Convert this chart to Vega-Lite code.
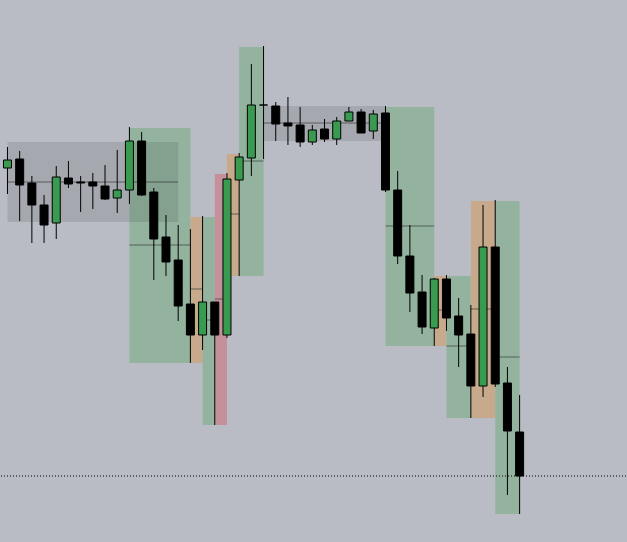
{
  "$schema": "https://vega.github.io/schema/vega-lite/v6.json",
  "width": 627,
  "height": 542,
  "autosize": {"type": "fit", "contains": "padding"},
  "padding": 0,
  "background": "#B9BCC4",
  "config": {
    "view": {"stroke": null},
    "axis": {"disable": true},
    "legend": {"disable": true}
  },
  "datasets": {
    "candles": [
      {"i": 1, "open": 137.4, "high": 139.5, "low": 134.8, "close": 138.2},
      {"i": 2, "open": 138.3, "high": 139.1, "low": 132.1, "close": 135.7},
      {"i": 3, "open": 135.9, "high": 136.6, "low": 129.9, "close": 133.7},
      {"i": 4, "open": 133.7, "high": 134.7, "low": 129.9, "close": 131.7},
      {"i": 5, "open": 131.9, "high": 137.6, "low": 130.3, "close": 136.5},
      {"i": 6, "open": 136.4, "high": 138.1, "low": 135.4, "close": 135.8},
      {"i": 7, "open": 136.0, "high": 136.6, "low": 133.0, "close": 135.9},
      {"i": 8, "open": 136.0, "high": 136.9, "low": 133.3, "close": 135.6},
      {"i": 9, "open": 135.6, "high": 137.7, "low": 134.2, "close": 134.3},
      {"i": 10, "open": 134.4, "high": 139.2, "low": 132.9, "close": 135.2},
      {"i": 11, "open": 135.2, "high": 141.5, "low": 133.8, "close": 140.1},
      {"i": 12, "open": 140.1, "high": 141.0, "low": 134.6, "close": 134.7},
      {"i": 13, "open": 135.0, "high": 135.4, "low": 126.2, "close": 130.3},
      {"i": 14, "open": 130.5, "high": 132.7, "low": 126.6, "close": 128.0},
      {"i": 15, "open": 128.2, "high": 131.7, "low": 122.1, "close": 123.6},
      {"i": 16, "open": 123.8, "high": 131.3, "low": 117.9, "close": 120.7},
      {"i": 17, "open": 120.7, "high": 132.6, "low": 119.2, "close": 124.0},
      {"i": 18, "open": 124.0, "high": 124.0, "low": 111.7, "close": 120.7},
      {"i": 19, "open": 120.7, "high": 136.9, "low": 120.4, "close": 136.3},
      {"i": 20, "open": 136.2, "high": 138.9, "low": 126.6, "close": 138.5},
      {"i": 21, "open": 138.4, "high": 147.8, "low": 136.6, "close": 143.7},
      {"i": 22, "open": 143.7, "high": 149.6, "low": 138.3, "close": 143.7},
      {"i": 23, "open": 143.6, "high": 144.0, "low": 140.1, "close": 141.8},
      {"i": 24, "open": 141.9, "high": 144.5, "low": 139.7, "close": 141.6},
      {"i": 25, "open": 141.7, "high": 143.5, "low": 139.5, "close": 140.0},
      {"i": 26, "open": 140.0, "high": 141.7, "low": 139.7, "close": 141.2},
      {"i": 27, "open": 141.3, "high": 142.3, "low": 140.0, "close": 140.3},
      {"i": 28, "open": 140.3, "high": 142.5, "low": 139.7, "close": 142.1},
      {"i": 29, "open": 142.1, "high": 143.5, "low": 142.1, "close": 143.0},
      {"i": 30, "open": 143.0, "high": 143.3, "low": 140.9, "close": 140.9},
      {"i": 31, "open": 141.1, "high": 143.2, "low": 140.3, "close": 142.8},
      {"i": 32, "open": 142.9, "high": 143.6, "low": 135.0, "close": 135.2},
      {"i": 33, "open": 135.2, "high": 137.1, "low": 127.8, "close": 128.6},
      {"i": 34, "open": 128.6, "high": 131.7, "low": 123.0, "close": 124.9},
      {"i": 35, "open": 125.0, "high": 126.7, "low": 120.8, "close": 121.5},
      {"i": 36, "open": 121.4, "high": 126.4, "low": 119.6, "close": 126.3},
      {"i": 37, "open": 126.3, "high": 126.7, "low": 121.1, "close": 122.4},
      {"i": 38, "open": 122.6, "high": 124.4, "low": 117.5, "close": 120.7},
      {"i": 39, "open": 120.8, "high": 123.7, "low": 112.4, "close": 115.6},
      {"i": 40, "open": 115.6, "high": 133.7, "low": 114.5, "close": 129.5},
      {"i": 41, "open": 129.5, "high": 134.2, "low": 115.5, "close": 115.8},
      {"i": 42, "open": 115.9, "high": 117.5, "low": 104.7, "close": 111.1},
      {"i": 43, "open": 111.0, "high": 114.7, "low": 102.8, "close": 106.6}
    ],
    "zones": [
      {"start": 1, "end": 15, "top": 140.0, "bottom": 132.0, "mid": 136.0, "kind": "range"},
      {"start": 11, "end": 16, "top": 141.4, "bottom": 117.9, "mid": 129.7, "kind": "impulse"},
      {"start": 16, "end": 17, "top": 132.5, "bottom": 117.9, "mid": 125.3, "kind": "base"},
      {"start": 17, "end": 18, "top": 132.5, "bottom": 111.7, "mid": 122.2, "kind": "impulse"},
      {"start": 18, "end": 19, "top": 136.8, "bottom": 111.7, "mid": 124.3, "kind": "imbalance"},
      {"start": 19, "end": 20, "top": 138.8, "bottom": 126.6, "mid": 132.8, "kind": "base"},
      {"start": 20, "end": 22, "top": 149.5, "bottom": 126.6, "mid": 138.1, "kind": "impulse"},
      {"start": 22, "end": 32, "top": 143.6, "bottom": 140.1, "mid": 141.9, "kind": "range"},
      {"start": 32, "end": 36, "top": 143.5, "bottom": 119.6, "mid": 131.6, "kind": "impulse"},
      {"start": 36, "end": 37, "top": 126.6, "bottom": 119.6, "mid": 123.2, "kind": "base"},
      {"start": 37, "end": 39, "top": 126.6, "bottom": 112.4, "mid": 119.6, "kind": "impulse"},
      {"start": 39, "end": 41, "top": 134.1, "bottom": 112.4, "mid": 123.3, "kind": "base"},
      {"start": 41, "end": 43, "top": 134.1, "bottom": 102.8, "mid": 118.5, "kind": "impulse"}
    ],
    "levels": [{"price": 106.6}]
  },
  "layer": [
    {
      "data": {"name": "zones"},
      "transform": [{"filter": "datum.kind !== 'range'"}],
      "mark": {"type": "rect"},
      "encoding": {
        "x": {"field": "start", "type": "quantitative", "scale": {"domain": [0.4686, 51.724], "nice": false, "zero": false, "padding": 0}},
        "x2": {"field": "end"},
        "y": {"field": "top", "type": "quantitative", "scale": {"domain": [100, 154.2], "nice": false, "zero": false, "padding": 0}},
        "y2": {"field": "bottom"},
        "color": {
          "field": "kind", "type": "nominal",
          "scale": {"domain": ["impulse", "base", "imbalance"], "range": ["#93B39F", "#C6AA8B", "#C4909A"]}
        }
      }
    },
    {
      "data": {"name": "zones"},
      "transform": [{"filter": "datum.kind === 'range'"}],
      "mark": {"type": "rect", "fill": "#000000", "fillOpacity": 0.1},
      "encoding": {
        "x": {"field": "start", "type": "quantitative", "scale": {"domain": [0.4686, 51.724], "nice": false, "zero": false, "padding": 0}},
        "x2": {"field": "end"},
        "y": {"field": "top", "type": "quantitative", "scale": {"domain": [100, 154.2], "nice": false, "zero": false, "padding": 0}},
        "y2": {"field": "bottom"}
      }
    },
    {
      "data": {"name": "zones"},
      "mark": {"type": "rule", "color": "#3a3d3a", "strokeWidth": 1, "opacity": 0.7},
      "encoding": {
        "x": {"field": "start", "type": "quantitative", "scale": {"domain": [0.4686, 51.724], "nice": false, "zero": false, "padding": 0}},
        "x2": {"field": "end"},
        "y": {"field": "mid", "type": "quantitative", "scale": {"domain": [100, 154.2], "nice": false, "zero": false, "padding": 0}}
      }
    },
    {
      "data": {"name": "levels"},
      "mark": {"type": "rule", "color": "#000000", "strokeWidth": 1, "strokeDash": [1, 2]},
      "encoding": {
        "y": {"field": "price", "type": "quantitative", "scale": {"domain": [100, 154.2], "nice": false, "zero": false, "padding": 0}}
      }
    },
    {
      "data": {"name": "candles"},
      "mark": {"type": "rule", "color": "#000000", "strokeWidth": 1},
      "encoding": {
        "x": {"field": "i", "type": "quantitative", "scale": {"domain": [0.4686, 51.724], "nice": false, "zero": false, "padding": 0}},
        "y": {"field": "low", "type": "quantitative", "scale": {"domain": [100, 154.2], "nice": false, "zero": false, "padding": 0}},
        "y2": {"field": "high"}
      }
    },
    {
      "data": {"name": "candles"},
      "mark": {"type": "bar", "size": 8, "stroke": "#000000", "strokeWidth": 1},
      "encoding": {
        "x": {"field": "i", "type": "quantitative", "scale": {"domain": [0.4686, 51.724], "nice": false, "zero": false, "padding": 0}},
        "y": {"field": "open", "type": "quantitative", "scale": {"domain": [100, 154.2], "nice": false, "zero": false, "padding": 0}},
        "y2": {"field": "close"},
        "fill": {
          "condition": {"test": "datum.close > datum.open", "value": "#389B50"},
          "value": "#000000"
        }
      }
    }
  ]
}
